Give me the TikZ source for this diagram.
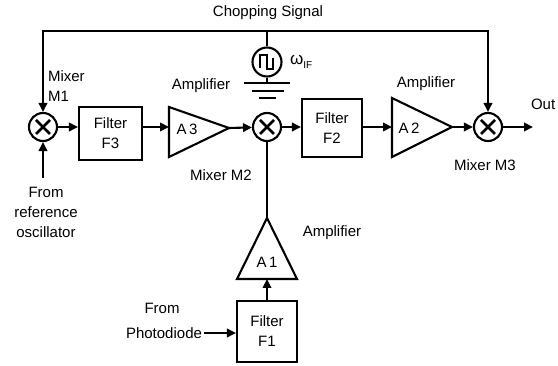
\documentclass[tikz,border=0pt]{standalone}
\usepackage{fontspec}
\setmainfont{Liberation Sans}
\usetikzlibrary{arrows.meta}
\begin{document}
\begin{tikzpicture}[x=1pt,y=-1pt, line width=2.1pt,
  font=\fontsize{15}{20}\selectfont,
  >={Triangle[length=9pt,width=8.5pt]},
  mixer/.style={circle,draw,minimum size=28pt,inner sep=0pt,
    path picture={
      \draw[line width=2.8pt] ([shift={(-7pt,-7pt)}]path picture bounding box.center) -- ([shift={(7pt,7pt)}]path picture bounding box.center);
      \draw[line width=2.8pt] ([shift={(-7pt,7pt)}]path picture bounding box.center) -- ([shift={(7pt,-7pt)}]path picture bounding box.center);}},
  filterbox/.style={draw,align=center,inner sep=0pt},
  lbl/.style={inner sep=0pt,align=center},
  ampl/.style={line join=miter}]
\useasboundingbox (0,0) rectangle (558,366);

% mixers
\node[mixer] (m1) at (43,127) {};
\node[mixer] (m2) at (267,127) {};
\node[mixer] (m3) at (488,127) {};

% filters
\node[filterbox,minimum width=63pt,minimum height=53pt] (f3) at (110.5,133.5) {Filter\\F3};
\node[filterbox,minimum width=60pt,minimum height=58pt] (f2) at (332,128) {Filter\\F2};
\node[filterbox,minimum width=60pt,minimum height=61pt] (f1) at (267,331.5) {Filter\\F1};

% amplifiers
\draw[ampl] (169,107) -- (229,128) -- (169,157) -- cycle;
\draw[ampl] (392,98) -- (452,127) -- (392,157) -- cycle;
\draw[ampl] (267,218) -- (297,279) -- (237,279) -- cycle;
\node[lbl] (a3) at (187,129) {A\,3};
\node[lbl] (a2) at (409,128) {A\,2};
\node[lbl] (a1) at (267,262) {A\,1};
\coordinate (a3in) at (169,127);
\coordinate (a3out) at (229,128);
\coordinate (a2in) at (392,127);
\coordinate (a2out) at (452,127);
\coordinate (a1in) at (267,279);
\coordinate (a1out) at (267,218);

% chopping signal source
\coordinate (top) at (267,31);
\node[circle,draw,minimum size=29pt,inner sep=0pt] (src) at (267,62) {};
\draw[line join=miter] ([shift={(-7,6)}]src.center) -- ([shift={(-7,-7)}]src.center) -- ([shift={(0,-7)}]src.center) -- ([shift={(0,7)}]src.center) -- ([shift={(6,7)}]src.center) -- ([shift={(6,-4)}]src.center);
\coordinate (gnd) at (267,83);
\draw (top) -- (src);
\draw (src) -- (gnd);
\draw[line width=2.4pt] (244,83) -- (290,83);
\draw[line width=2.4pt] (252,91) -- (284,91);
\draw[line width=2.4pt] (259,98) -- (276,98);

% chopping line
\draw[->,line join=miter] (top) -| (m1);
\draw[->,line join=miter] (top) -| (m3);

% signal path
\draw[->] (m1.east) -- (m1.east -| f3.west);
\draw[->] (f3.east |- a3in) -- (a3in);
\draw[->] (a3out) -- (m2);
\draw[->] (m2) -- (m2 -| f2.west);
\draw[->] (f2.east |- a2in) -- (a2in);
\draw[->] (a2out) -- (m3);
\coordinate (out) at (533,127);
\draw[->] (m3) -- (out);
\draw[->] (f1.north -| a1in) -- (a1in);
\draw (a1out) -- (m2);

\coordinate (refosc) at (43,178);
\draw[->] (refosc) -- (m1);
\coordinate (pd) at (204,333);
\draw[->] (pd) -- (pd -| f1.west);

% labels
\node[lbl] (lchop) at (268,13) {Chopping Signal};
\node[lbl,align=left,anchor=west] (lm1) at (47,86.5) {Mixer\\M1};
\node[lbl] (lamp3) at (201,86) {Amplifier};
\node[lbl] (lm2) at (221,175) {Mixer M2};
\node[lbl,anchor=west] (lw) at (289,62) {\fontsize{17}{20}\selectfont ω\raisebox{-4pt}{\fontsize{10}{10}\selectfont IF}};
\node[lbl] (lamp2) at (426,84) {Amplifier};
\node[lbl,anchor=west] (lout) at (530,104) {Out};
\node[lbl] (lm3) at (485,165) {Mixer M3};
\node[lbl] (lref) at (46,212) {From\\reference\\oscillator};
\node[lbl] (lamp1) at (332,233) {Amplifier};
\node[lbl] (lfrom) at (162,308) {From};
\node[lbl,anchor=east] (lpd) at (203,333) {Photodiode};
\end{tikzpicture}
\end{document}
